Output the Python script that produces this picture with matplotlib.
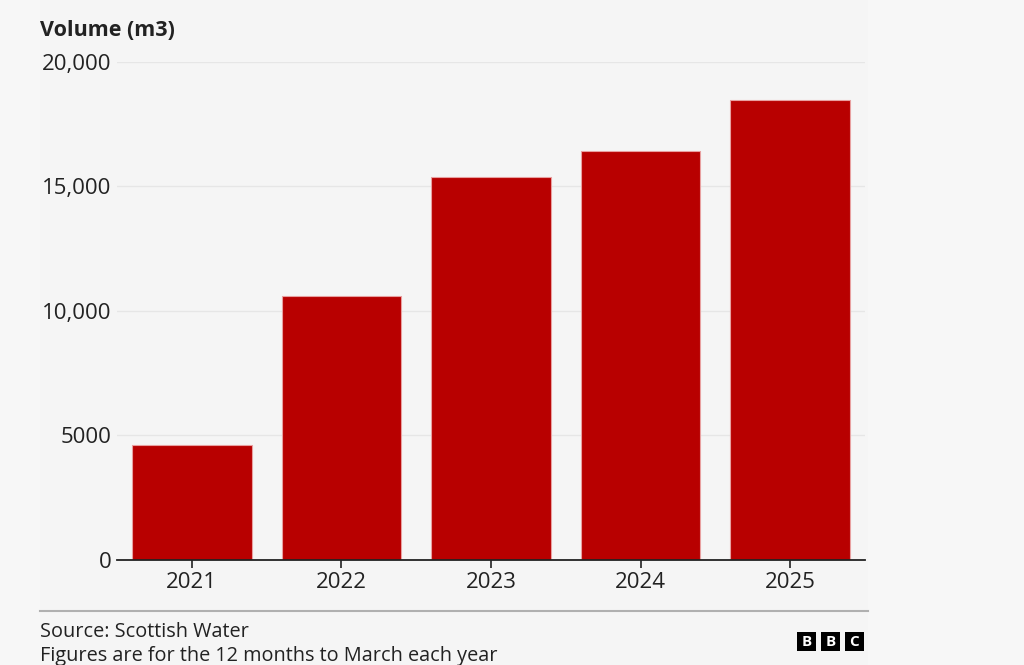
import matplotlib
matplotlib.use("Agg")
import matplotlib.pyplot as plt
from matplotlib.patches import Rectangle
from matplotlib.lines import Line2D

years = ["2021", "2022", "2023", "2024", "2025"]
volumes = [4620, 10600, 15350, 16430, 18450]
ytick_values = [0, 5000, 10000, 15000, 20000]
ytick_labels = ["0", "5000", "10,000", "15,000", "20,000"]

W, H = 1024, 665
plt.rcParams['font.family'] = ['Open Sans', 'DejaVu Sans']
fig = plt.figure(figsize=(W / 100, H / 100), dpi=100, facecolor="#f7f7f7")

# chart panel background
fig.patches.append(Rectangle((40 / W, 0), (868 - 40) / W, 1, transform=fig.transFigure,
                             facecolor="#f5f5f5", edgecolor="none", zorder=-10))

ax = fig.add_axes([117 / W, (H - 559.5) / H, (865 - 117) / W, (559.5 - 61.7) / H])
ax.set_facecolor("none")
x = list(range(len(years)))
ax.bar(x, volumes, width=0.8, color="#b80000", edgecolor="#e8a0a0", linewidth=0.8, zorder=3)
ax.set_xlim(-0.5, len(years) - 0.5)
ax.set_ylim(0, 20000)
ax.set_yticks(ytick_values)
ax.set_yticklabels(ytick_labels)
ax.set_xticks(x)
ax.set_xticklabels(years)
for s in ["top", "right", "left"]:
    ax.spines[s].set_visible(False)
ax.spines["bottom"].set_color("#222222")
ax.spines["bottom"].set_linewidth(1.3)
ax.spines["bottom"].set_zorder(4)
ax.grid(axis="y", color="#e6e6e6", linewidth=1, zorder=0)
ax.tick_params(axis="y", length=0, pad=4, labelsize=16, labelcolor="#222222")
ax.tick_params(axis="x", length=6, width=1.2, color="#222222", pad=3, labelsize=16, labelcolor="#222222")

fig.text(40 / W, 1 - 31 / H, "Volume (m3)", fontsize=15.5, fontweight="bold",
         color="#222222", va="center", ha="left")

# separator line
fig.add_artist(Line2D([40 / W, 868 / W], [1 - 611 / H, 1 - 611 / H], transform=fig.transFigure,
                      color="#b0b0b0", linewidth=1.5))
fig.text(40 / W, 1 - 632 / H, "Source: Scottish Water", fontsize=14.3, color="#222222",
         va="center", ha="left")
fig.text(40 / W, 1 - 656 / H, "Figures are for the 12 months to March each year", fontsize=14.3,
         color="#222222", va="center", ha="left")

# BBC logo
for i, letter in enumerate("BBC"):
    x0 = 797 + i * 24
    fig.patches.append(Rectangle((x0 / W, 1 - 651 / H), 19 / W, 19 / H, transform=fig.transFigure,
                                 facecolor="black", edgecolor="none", zorder=5))
    fig.text((x0 + 9.5) / W, 1 - 641.5 / H, letter, fontsize=11, fontweight="bold", color="white",
             ha="center", va="center", zorder=6)

fig.savefig("out.png", dpi=100, facecolor=fig.get_facecolor())
